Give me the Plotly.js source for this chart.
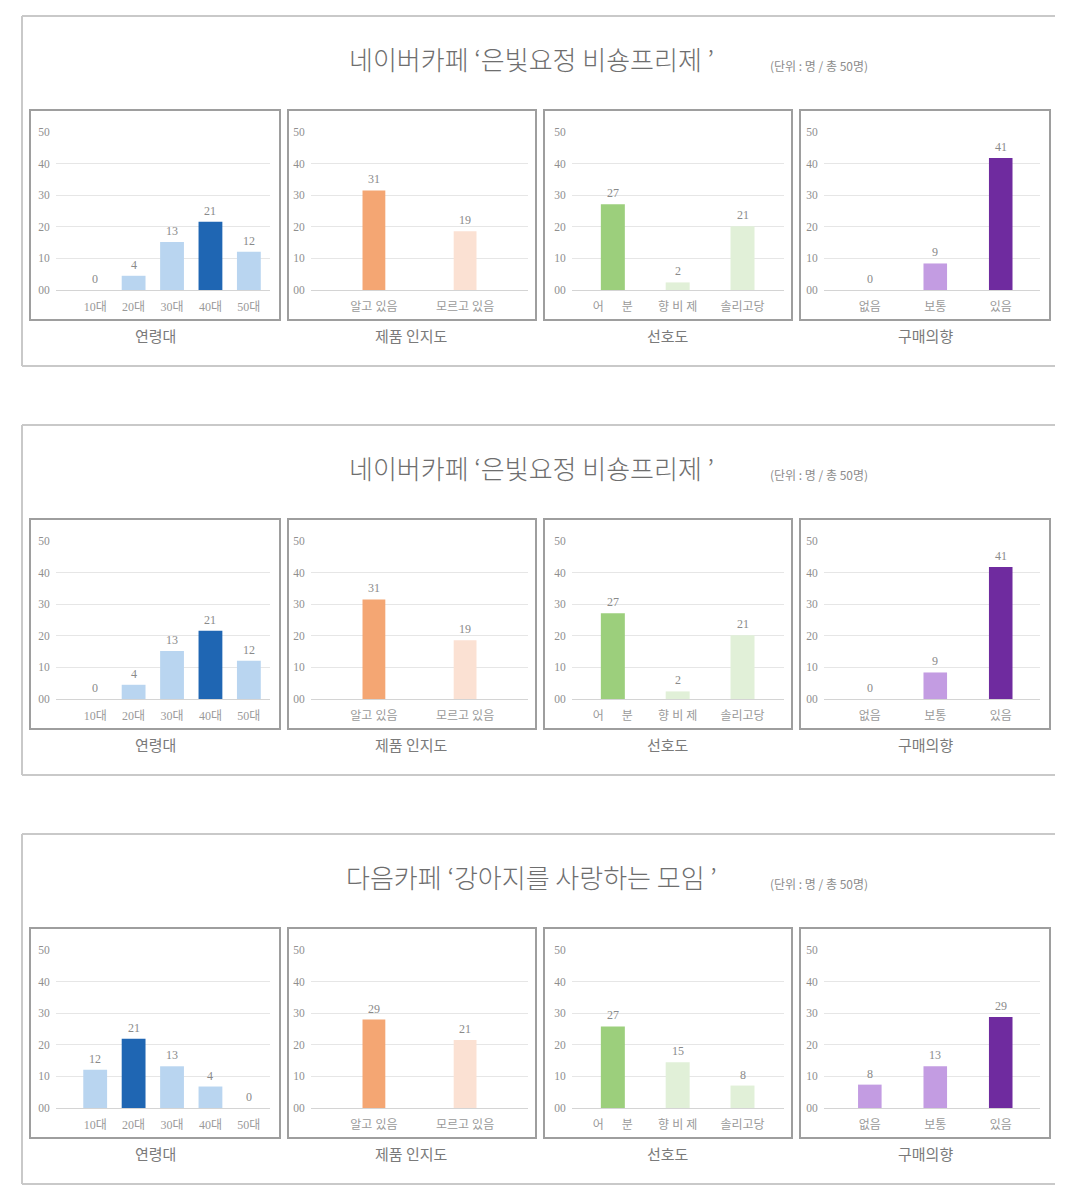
<!DOCTYPE html>
<html>
<head>
<meta charset="utf-8">
<script src="https://cdn.plot.ly/plotly-3.0.1.min.js"></script>
<style>html,body{margin:0;padding:0;background:#ffffff;}#chart{width:1075px;height:1200px;}</style>
</head>
<body>
<div id="chart"></div>
<script>
// ---------------- DATA ----------------
const sectionTitles = [
  "네이버카페 ‘은빛요정 비숑프리제 ’",
  "네이버카페 ‘은빛요정 비숑프리제 ’",
  "다음카페 ‘강아지를 사랑하는 모임 ’"
];
const unitNote = "(단위 : 명 / 총 50명)";
const panelTitles = ["연령대", "제품 인지도", "선호도", "구매의향"];

const ageCategories = ["10대", "20대", "30대", "40대", "50대"];
const awarenessCategories = ["알고 있음", "모르고 있음"];
const preferenceCategories = ["어\u2003\u2002분", "향 비 제", "솔리고당"];
const intentCategories = ["없음", "보통", "있음"];

const yTickValues = [0, 10, 20, 30, 40, 50];
const yTickLabels = ["00", "10", "20", "30", "40", "50"];

// Section 1 (bar heights as drawn, and the printed labels)
const ageBars1 = [0, 4.5, 15.2, 21.6, 12.1];
const ageLabels1 = [0, 4, 13, 21, 12];
const awarenessBars1 = [31.5, 18.6];
const awarenessLabels1 = [31, 19];
const preferenceBars1 = [27.1, 2.4, 20.2];
const preferenceLabels1 = [27, 2, 21];
const intentBars1 = [0, 8.4, 41.8];
const intentLabels1 = [0, 9, 41];

// Section 2
const ageBars2 = [0, 4.5, 15.2, 21.6, 12.1];
const ageLabels2 = [0, 4, 13, 21, 12];
const awarenessBars2 = [31.5, 18.6];
const awarenessLabels2 = [31, 19];
const preferenceBars2 = [27.1, 2.4, 20.2];
const preferenceLabels2 = [27, 2, 21];
const intentBars2 = [0, 8.4, 41.8];
const intentLabels2 = [0, 9, 41];

// Section 3
const ageBars3 = [12.1, 21.9, 13.2, 6.8, 0];
const ageLabels3 = [12, 21, 13, 4, 0];
const awarenessBars3 = [28.0, 21.5];
const awarenessLabels3 = [29, 21];
const preferenceBars3 = [25.8, 14.5, 7.1];
const preferenceLabels3 = [27, 15, 8];
const intentBars3 = [7.4, 13.2, 28.8];
const intentLabels3 = [8, 13, 29];

// ---------------- STYLE / LAYOUT ----------------
const W = 1075, H = 1200;
const px = v => v / W;
const py = v => 1 - v / H;

const sectionOffsets = [0, 409, 818];
const panelBoxes = [[30, 280], [288, 536], [544, 792], [800, 1050]];
const plotXpx = [[56, 270], [311, 528], [572, 784], [824, 1040]];
const xRanges = [[-1.02, 4.55], [-0.69, 1.69], [-0.63, 2.64], [-0.70, 2.60]];
const barWidths = [0.62, 0.25, 0.37, 0.36];
const lightColors = ["#b9d5f0", "#fbe1d3", "#e1f0d8", "#c39ce2"];
const darkColors = ["#1f66b3", "#f4a673", "#9ccf7c", "#6f2b9f"];
const highlightIdx = [[3, 0, 0, 2], [3, 0, 0, 2], [1, 0, 0, 2]];

const categories = [ageCategories, awarenessCategories, preferenceCategories, intentCategories];
const barSets = [
  [ageBars1, awarenessBars1, preferenceBars1, intentBars1],
  [ageBars2, awarenessBars2, preferenceBars2, intentBars2],
  [ageBars3, awarenessBars3, preferenceBars3, intentBars3]
];
const labelSets = [
  [ageLabels1, awarenessLabels1, preferenceLabels1, intentLabels1],
  [ageLabels2, awarenessLabels2, preferenceLabels2, intentLabels2],
  [ageLabels3, awarenessLabels3, preferenceLabels3, intentLabels3]
];

const serif = "Liberation Serif, DejaVu Serif, Noto Sans CJK KR, serif";
const sans = "Noto Sans CJK KR, Noto Sans, sans-serif";

const traces = [];
const layout = {
  width: W, height: H,
  margin: {l: 0, r: 0, t: 0, b: 0, pad: 0},
  paper_bgcolor: "#ffffff",
  plot_bgcolor: "rgba(0,0,0,0)",
  showlegend: false,
  shapes: [],
  annotations: []
};

for (let s = 0; s < 3; s++) {
  const o = sectionOffsets[s];
  // outer frame
  const frame = {type: "line", xref: "paper", yref: "paper", line: {color: "#c9c9c9", width: 2}};
  layout.shapes.push(Object.assign({}, frame, {x0: px(22), x1: px(1055), y0: py(16 + o), y1: py(16 + o)}));
  layout.shapes.push(Object.assign({}, frame, {x0: px(22), x1: px(1055), y0: py(366 + o), y1: py(366 + o)}));
  layout.shapes.push(Object.assign({}, frame, {x0: px(22), x1: px(22), y0: py(16 + o), y1: py(366 + o)}));
  // section title
  layout.annotations.push({
    xref: "paper", yref: "paper", x: px(531), y: py(58 + o), xanchor: "center", yanchor: "middle",
    text: sectionTitles[s], showarrow: false,
    font: {family: sans, size: 26, color: "#6e6e6e", weight: 300}
  });
  layout.annotations.push({
    xref: "paper", yref: "paper", x: px(819), y: py(65 + o), xanchor: "center", yanchor: "middle",
    text: unitNote, showarrow: false,
    font: {family: sans, size: 12, color: "#8c8c8c"}
  });

  for (let p = 0; p < 4; p++) {
    const n = s * 4 + p + 1;
    const xa = n === 1 ? "x" : "x" + n;
    const ya = n === 1 ? "y" : "y" + n;
    const xk = n === 1 ? "xaxis" : "xaxis" + n;
    const yk = n === 1 ? "yaxis" : "yaxis" + n;
    const cats = categories[p];
    const vals = barSets[s][p];
    const labs = labelSets[s][p];
    const colors = cats.map((c, i) => i === highlightIdx[s][p] ? darkColors[p] : lightColors[p]);

    traces.push({
      type: "bar", x: cats, y: vals, xaxis: xa, yaxis: ya,
      width: barWidths[p], marker: {color: colors, line: {width: 0}},
      hoverinfo: "skip"
    });

    layout[xk] = {
      domain: [px(plotXpx[p][0]), px(plotXpx[p][1])],
      anchor: ya, type: "category", range: xRanges[p],
      showgrid: false, zeroline: false, showline: false,
      ticks: "outside", ticklen: 6, tickcolor: "rgba(0,0,0,0)",
      tickfont: {family: serif, size: 12, color: "#9a9a9a"},
      fixedrange: true
    };
    layout[yk] = {
      domain: [py(290 + o), py(132 + o)],
      anchor: xa, range: [0, 50],
      tickvals: yTickValues, ticktext: yTickLabels,
      showgrid: true, gridcolor: "#e6e6e6", gridwidth: 1,
      zeroline: true, zerolinecolor: "#d4d4d4", zerolinewidth: 1,
      showline: false, ticks: "outside", ticklen: 3, tickcolor: "rgba(0,0,0,0)",
      tickfont: {family: serif, size: 11.5, color: "#8f8f8f"},
      fixedrange: true
    };

    // data labels
    cats.forEach((c, i) => {
      layout.annotations.push({
        xref: xa, yref: ya, x: c, y: vals[i], text: String(labs[i]),
        showarrow: false, xanchor: "center", yanchor: "bottom", yshift: 2,
        font: {family: serif, size: 12, color: "#8a8a8a"}
      });
    });

    // panel box
    layout.shapes.push({
      type: "rect", xref: "paper", yref: "paper",
      x0: px(panelBoxes[p][0]), x1: px(panelBoxes[p][1]),
      y0: py(320 + o), y1: py(110 + o),
      line: {color: "#9e9e9e", width: 2}, fillcolor: "rgba(0,0,0,0)"
    });
    // panel title
    layout.annotations.push({
      xref: "paper", yref: "paper",
      x: px((panelBoxes[p][0] + panelBoxes[p][1]) / 2), y: py(335 + o),
      xanchor: "center", yanchor: "middle", text: panelTitles[p], showarrow: false,
      font: {family: sans, size: 15, color: "#7a7a7a"}
    });
  }
}

Plotly.newPlot("chart", traces, layout, {displayModeBar: false, staticPlot: true});
</script>
</body>
</html>
